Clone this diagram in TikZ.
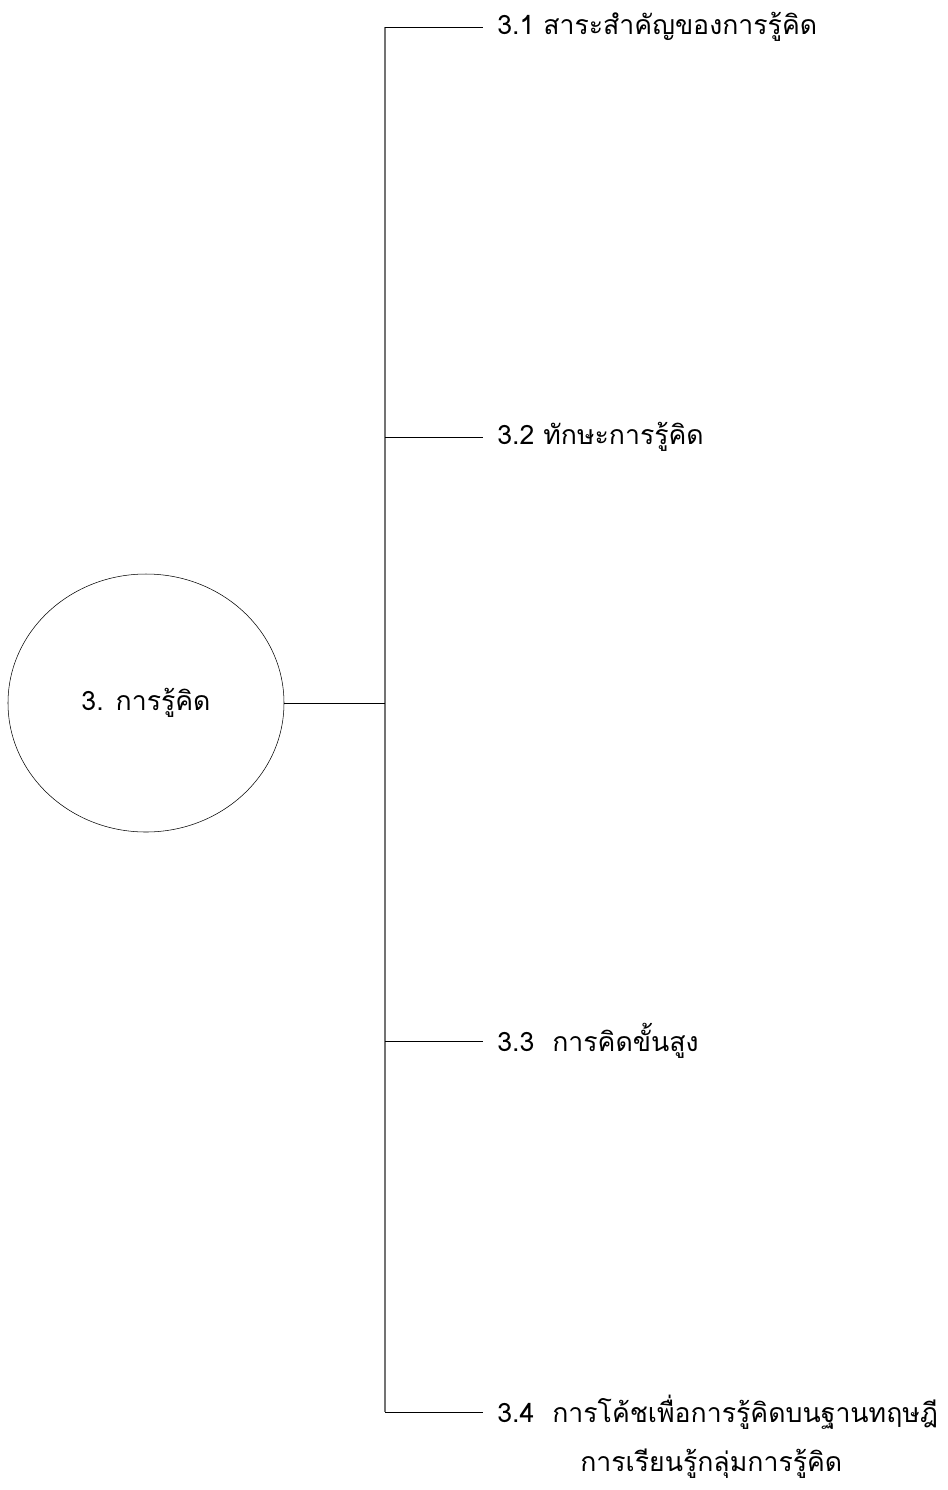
\documentclass[tikz,border=0pt]{standalone}
\usepackage{fontspec}
\newfontfamily\thaifont[Script=Thai]{Loma}
\usetikzlibrary{positioning,shapes.geometric}

\tikzset{
  topic/.style={draw, ellipse, minimum width=276*0.75pt, minimum height=258*0.75pt, inner sep=0pt, font=\thaifont\fontsize{20}{24}\selectfont},
  item/.style={anchor=west, inner xsep=10.5pt, inner ysep=0pt, font=\thaifont\fontsize{20}{24}\selectfont},
  branch/.style={line width=0.6pt},
  trunk/.style={line width=0.8pt, color=black!55}
}

\begin{document}
\begin{tikzpicture}[x=0.75pt,y=0.75pt,yscale=-1,xscale=1]
\useasboundingbox (0,0) rectangle (948,1490);

% Ellipse
\node [topic] (main) at (146,703) {3. การรู้คิด};

% Trunk coordinates
\coordinate (jtop) at (385,27);
\coordinate (jmid) at (385,703);
\coordinate (jbot) at (385,1412);
\coordinate (j2) at (385,437);
\coordinate (j3) at (385,1041);

% Text Node
\node [item] (s1) at (483,27) {3.1 สาระสำคัญของการรู้คิด};
% Text Node
\node [item] (s2) at (483,437) {3.2 ทักษะการรู้คิด};
% Text Node
\node [item] (s3) at (483,1041) {3.3\ \ การคิดขั้นสูง};
% Text Node
\node [item] (s4) at (483,1412) {3.4\ \ การโค้ชเพื่อการรู้คิดบนฐานทฤษฎี};
\node [item, anchor=west] (s4b) at (566,1464) {การเรียนรู้กลุ่มการรู้คิด};

% Straight Lines
\draw [trunk] (jtop) -- (jbot);
\draw [branch] (main.east) -- (jmid);
\draw [branch] (jtop) -- (s1.west);
\draw [branch] (j2) -- (s2.west);
\draw [branch] (j3) -- (s3.west);
\draw [branch] (jbot) -- (s4.west);
\end{tikzpicture}
\end{document}
